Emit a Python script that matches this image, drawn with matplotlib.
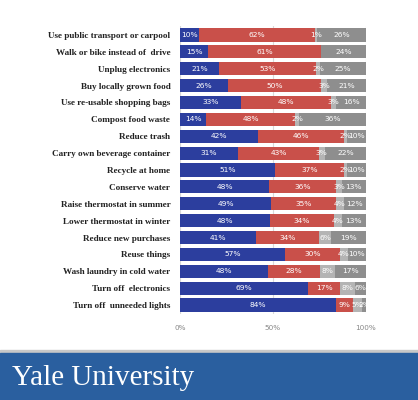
import numpy as np
import matplotlib.pyplot as plt
from matplotlib.patches import Rectangle

acciones = [
    'Use public transport or carpool', 'Walk or bike instead of  drive',
    'Unplug electronics', 'Buy locally grown food',
    'Use re-usable shopping bags', 'Compost food waste', 'Reduce trash',
    'Carry own beverage container', 'Recycle at home', 'Conserve water',
    'Raise thermostat in summer', 'Lower thermostat in winter',
    'Reduce new purchases', 'Reuse things', 'Wash laundry in cold water',
    'Turn off  electronics', 'Turn off  unneeded lights'
]
serie_azul = np.array([10, 15, 21, 26, 33, 14, 42, 31, 51, 48, 49, 48, 41, 57, 48, 69, 84])
serie_roja = np.array([62, 61, 53, 50, 48, 48, 46, 43, 37, 36, 35, 34, 34, 30, 28, 17, 9])
serie_gris_clara = np.array([1, 0, 2, 3, 3, 2, 2, 3, 2, 3, 4, 4, 6, 4, 8, 8, 5])
serie_gris_oscura = np.array([26, 24, 25, 21, 16, 36, 10, 22, 10, 13, 12, 13, 19, 10, 17, 6, 2])
ticks = [0, 50, 100]
tick_labels = ['0%', '50%', '100%']

series = [serie_azul, serie_roja, serie_gris_clara, serie_gris_oscura]
colores = ['#2C3E9E', '#C9504A', '#B4B4B4', '#8E8E8E']

fig = plt.figure(figsize=(4.18, 4.0), dpi=100)
ax = fig.add_axes([0.4306, 0.21625, 0.445, 0.7175])

total = sum(series)
y = np.arange(len(acciones))
izq = np.zeros(len(acciones))
for vals, col in zip(series, colores):
    ancho = vals / total * 100
    ax.barh(y, ancho, left=izq, height=0.78, color=col, zorder=2)
    for yi, l, w, v in zip(y, izq, ancho, vals):
        if v > 0:
            ax.text(l + w / 2, yi, f'{v}%', ha='center', va='center',
                    color='white', fontsize=5.4, zorder=3)
    izq += ancho

ax.set_ylim(len(acciones) - 0.5, -0.5)
ax.set_xlim(0, 100)
ax.set_yticks(y)
ax.set_yticklabels(acciones, fontfamily='Liberation Serif', fontweight='bold',
                   fontsize=6.6, color='#222222')
ax.set_xticks(ticks)
ax.set_xticklabels(tick_labels, fontsize=5.2, color='#888888')
ax.tick_params(length=0, pad=8)
ax.tick_params(axis='y', pad=7)
ax.grid(axis='x', color='#D9D9D9', linewidth=0.8, zorder=0)
for s in ax.spines.values():
    s.set_visible(False)

# franja inferior
fig.patches.append(Rectangle((0, 0.1175), 1, 0.008, transform=fig.transFigure,
                             color='#C8C8C8', zorder=0))
fig.patches.append(Rectangle((0, 0), 1, 0.1175, transform=fig.transFigure,
                             color='#2A5F9F', zorder=1))
fig.text(0.028, 0.037, 'Yale University', fontfamily='Liberation Serif',
         fontsize=21, color='white')

fig.savefig('out.png', dpi=100)
